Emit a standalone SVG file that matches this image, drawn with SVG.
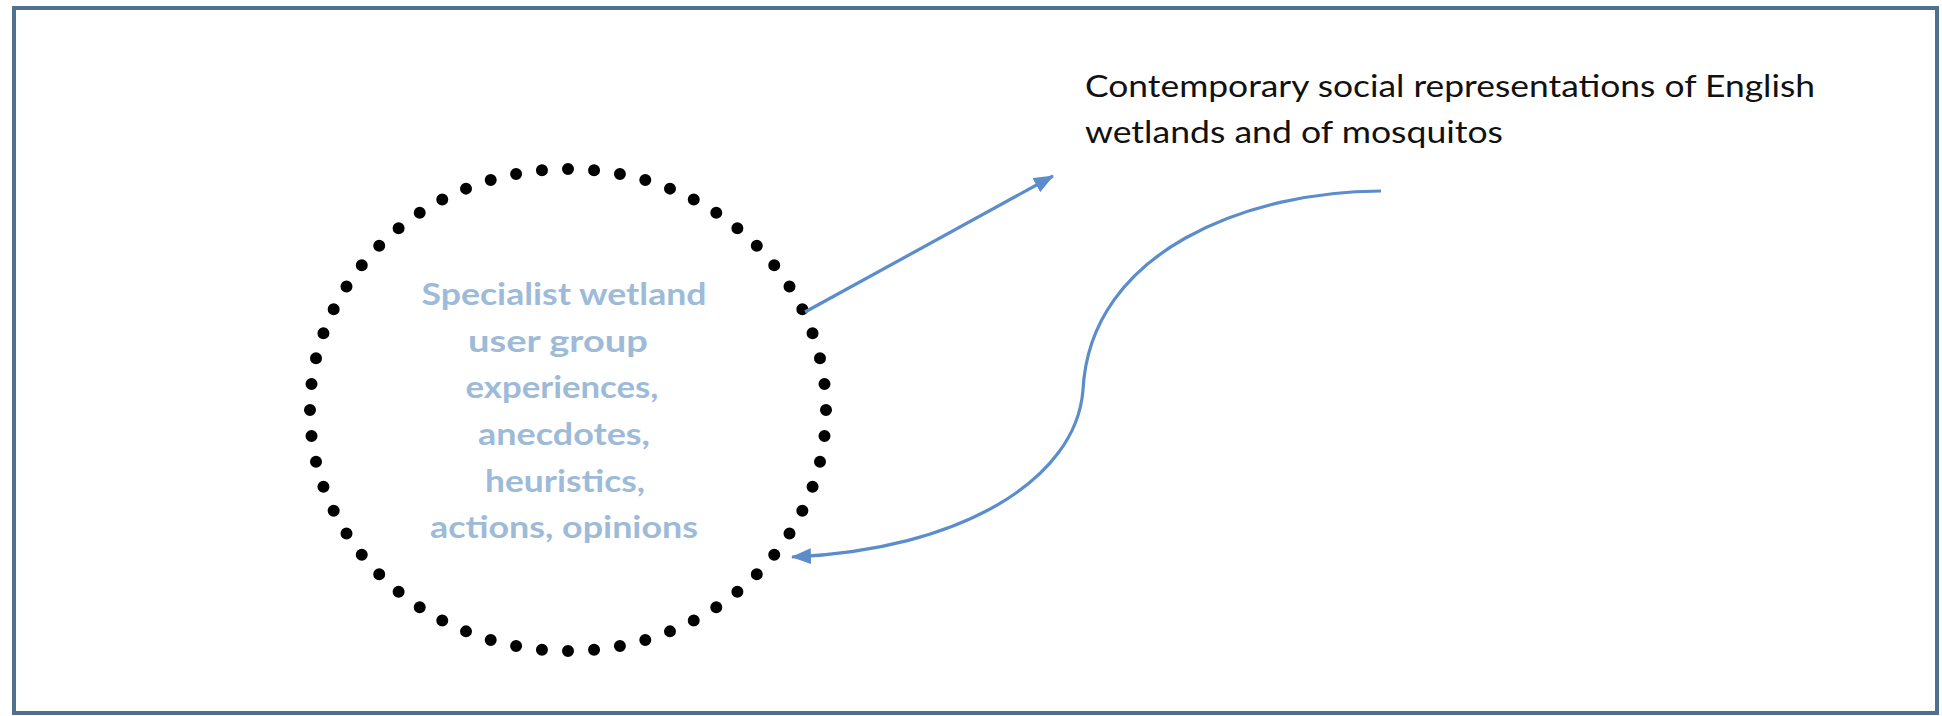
<svg xmlns="http://www.w3.org/2000/svg" width="1942" height="716" viewBox="0 0 1942 716">
<style>
.frame{fill:#ffffff;stroke:#4f7090;stroke-width:4}
.ring{fill:none;stroke:#000000;stroke-width:12;stroke-linecap:round;stroke-dasharray:0 1}
.inner{font-family:Lato,"Liberation Sans",sans-serif;font-weight:bold;font-size:30px;fill:#9dbbd8;text-anchor:middle}
.label{font-family:Lato,"Liberation Sans",sans-serif;font-size:30px;fill:#111111}
.conn{fill:none;stroke:#5b8ccb;stroke-width:3.2}
</style>
<defs>
<marker id="ah" viewBox="0 0 20 16" refX="19" refY="8" markerWidth="20" markerHeight="16" markerUnits="userSpaceOnUse" orient="auto">
<path d="M0,0 L20,8 L0,16 z" fill="#5b8ccb"/>
</marker>
</defs>
<rect class="frame" x="14" y="8" width="1923" height="705"/>
<g id="user-group">
<ellipse class="ring" cx="568" cy="410" rx="258" ry="241" pathLength="60"/>
<text class="inner" x="564" y="305" textLength="285" lengthAdjust="spacingAndGlyphs">Specialist wetland</text>
<text class="inner" x="558" y="352" textLength="180" lengthAdjust="spacingAndGlyphs">user group</text>
<text class="inner" x="562" y="398" textLength="193" lengthAdjust="spacingAndGlyphs">experiences,</text>
<text class="inner" x="564" y="445" textLength="172" lengthAdjust="spacingAndGlyphs">anecdotes,</text>
<text class="inner" x="565" y="492" textLength="160" lengthAdjust="spacingAndGlyphs">heuristics,</text>
<text class="inner" x="564" y="538" textLength="268" lengthAdjust="spacingAndGlyphs">actions, opinions</text>
</g>
<g id="social-representations">
<text class="label" x="1085" y="97" textLength="730" lengthAdjust="spacingAndGlyphs">Contemporary social representations of English</text>
<text class="label" x="1085" y="143" textLength="418" lengthAdjust="spacingAndGlyphs">wetlands and of mosquitos</text>
</g>
<g id="connectors">
<path class="conn" d="M805,312 L1053,176" marker-end="url(#ah)"/>
<path class="conn" d="M1381,191 C1250,191 1090,250 1083,390 C1076,480 960,550 792,557" marker-end="url(#ah)"/>
</g>
</svg>
